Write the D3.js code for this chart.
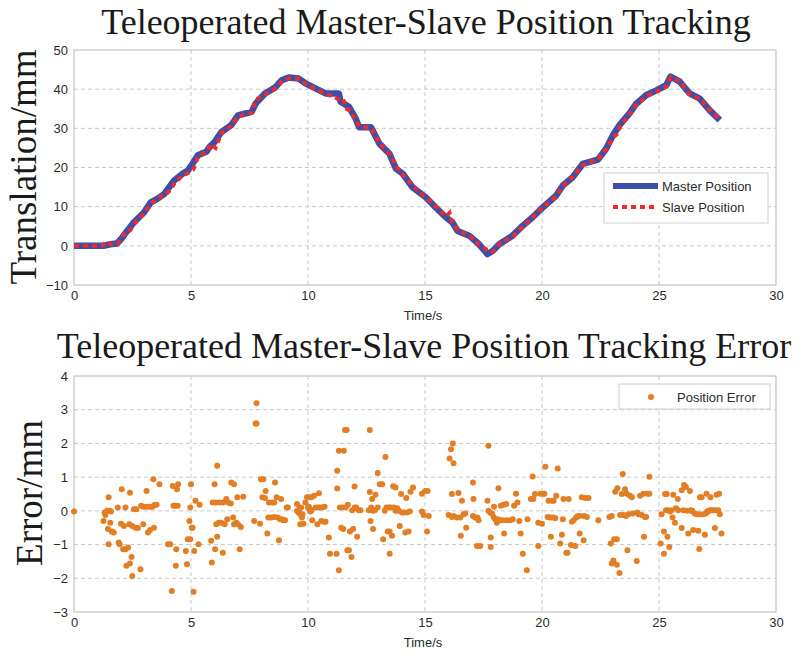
<!DOCTYPE html>
<html>
<head>
<meta charset="utf-8">
<script src="https://cdn.jsdelivr.net/npm/d3@7"></script>
<style>
  body { margin: 0; background: #fff; }
  .tick text { font-family: "Liberation Sans", Arial, sans-serif; font-size: 13px; fill: #2b2b2b; }
  .grid line { stroke: #c9c9c9; stroke-dasharray: 4,3; }
  .title { font-family: "Liberation Serif", "Times New Roman", serif; font-size: 36px; fill: #1a1a1a; }
  .ylab { font-family: "Liberation Serif", "Times New Roman", serif; font-size: 37px; fill: #1a1a1a; }
  .xlab, .leg { font-family: "Liberation Sans", Arial, sans-serif; font-size: 13px; fill: #2b2b2b; }
</style>
</head>
<body>
<div id="chart"></div>
<script>
// top chart: master / slave position (time s, translation mm)
var masterT = [0, 1.26, 1.55, 1.84, 2.05, 2.27, 2.56, 2.99, 3.28, 3.56, 3.85, 4.07, 4.28, 4.64, 4.86, 5.07, 5.29, 5.65, 5.79, 6.01, 6.29, 6.72, 7.01, 7.59, 7.76, 8.16, 8.59, 8.88, 9.17, 9.6, 9.89, 10.32, 10.75, 11.32, 11.39, 11.75, 12.04, 12.18, 12.69, 13.05, 13.48, 13.76, 14.05, 14.46, 15.03, 15.46, 15.89, 16.17, 16.39, 16.89, 17.31, 17.67, 17.89, 18.17, 18.74, 19.17, 19.6, 20.03, 20.6, 20.89, 21.31, 21.74, 22.39, 22.74, 23.03, 23.31, 23.74, 24.03, 24.46, 24.89, 25.31, 25.49, 25.89, 26.31, 26.74, 27.17, 27.6];
var masterV = [0, 0, 0.4, 0.6, 2, 3.8, 6, 8.5, 11.1, 12, 13.2, 15, 16.7, 18.4, 19.2, 21, 23.1, 24, 25.2, 26.5, 29, 30.8, 33.3, 34.2, 36.3, 38.9, 40.4, 42.3, 43, 42.7, 41.5, 40.2, 38.9, 38.9, 36.8, 35.5, 32.5, 30.3, 30.3, 26.1, 23.5, 19.7, 18.4, 15, 12.4, 9.8, 7.3, 6, 3.8, 2.6, 0.4, -2.1, -1.3, 0.4, 2.6, 5.1, 7.3, 9.8, 12.8, 15.4, 17.5, 20.9, 22, 24.8, 28.2, 30.8, 33.8, 36.3, 38.5, 39.7, 41, 43.2, 41.9, 38.9, 37.6, 34.6, 32.1];

var slaveT = [0, 1.2, 1.4, 1.6, 1.9, 2.1, 2.35, 2.6, 2.75, 3.0, 3.3, 3.6, 3.9, 4.1, 4.3, 4.6, 4.85, 5.1, 5.3, 5.7, 5.85, 6.05, 6.3, 6.7, 7.0, 7.6, 7.75, 8.2, 8.6, 8.9, 9.2, 9.6, 9.9, 10.3, 10.8, 11.1, 11.35, 11.5, 11.65, 11.8, 12.05, 12.2, 12.7, 13.05, 13.5, 13.8, 14.05, 14.5, 15.05, 15.5, 15.9, 16.05, 16.15, 16.4, 16.9, 17.15, 17.3, 17.7, 17.9, 18.2, 18.75, 19.2, 19.6, 20.05, 20.6, 20.9, 21.3, 21.75, 22.4, 22.75, 23.05, 23.2, 23.35, 23.75, 24.05, 24.5, 24.9, 25.3, 25.5, 25.9, 26.3, 26.75, 27.2, 27.6];
var slaveV = [0, 0, 1, 0.3, 0.8, 2.8, 3.5, 5.8, 6.8, 8.3, 10.8, 12.2, 13, 14.2, 16, 17.8, 18.5, 19.5, 22.8, 24.2, 26, 25, 28.8, 30.5, 33, 34, 37.2, 38.8, 40.2, 42, 42.8, 42.6, 41.4, 40.1, 38.6, 38.2, 37.2, 37.4, 35, 34.5, 32, 30.5, 30, 26.3, 23.3, 20, 18.2, 15.2, 12.3, 9.9, 7.5, 8.4, 6.2, 4, 2.5, 1.5, 0.3, -1.2, -1.5, 0.6, 2.4, 5, 7.2, 10, 12.6, 15.2, 17.6, 20.6, 22.2, 24.6, 27.8, 28.5, 30.6, 33.6, 36.1, 38.3, 39.4, 40.6, 43, 42.1, 38.7, 37.5, 34.4, 32.3];

// bottom chart: position error (time s, error mm)
var errorPoints = [
  [0.00,-0.02],[1.26,-0.30],[1.31,-0.05],[1.34,-0.12],[1.41,0.00],[1.48,0.40],[1.52,0.00],[1.55,-0.35],[1.58,-0.02],[1.45,-0.54],
  [1.48,-0.99],[1.62,-0.61],[1.70,-0.64],[1.87,0.10],[1.91,-0.94],[1.95,-0.99],[2.01,-0.38],[2.04,0.64],[2.10,-1.14],[2.13,-0.45],
  [2.20,0.10],[2.20,-1.14],[2.24,-1.63],[2.31,-1.09],[2.36,-0.40],[2.39,0.54],[2.39,-1.56],[2.46,-1.37],[2.49,-1.93],[2.49,-0.45],
  [2.56,0.05],[2.63,-0.50],[2.66,0.05],[2.73,-0.51],[2.84,-1.73],[2.87,0.15],[2.96,-0.40],[2.96,0.12],[3.06,0.12],[3.10,0.59],
  [3.16,-0.64],[3.20,0.12],[3.25,-0.57],[3.28,0.12],[3.35,0.12],[3.39,0.94],[3.42,-0.50],[3.45,0.18],[3.53,0.18],[3.65,0.79],
  [4.02,-0.99],[4.11,-0.99],[4.18,-2.38],[4.22,0.74],[4.25,0.15],[4.32,0.15],[4.35,-1.63],[4.37,-1.14],[4.40,0.64],[4.43,0.15],
  [4.45,0.79],[4.78,-1.19],[4.83,-1.58],[4.86,-0.84],[4.93,-0.30],[4.97,0.10],[4.97,-0.84],[5.00,0.79],[5.04,-0.50],[5.07,-0.50],
  [5.11,-2.40],[5.14,-1.19],[5.19,0.30],[5.32,-0.99],[5.37,0.18],[5.86,-0.89],[5.89,-1.53],[5.93,0.25],[6.01,0.79],[6.03,-1.14],
  [6.05,0.25],[6.08,-0.40],[6.12,1.34],[6.12,-0.77],[6.18,-0.35],[6.22,0.25],[6.29,-0.35],[6.36,-1.24],[6.36,0.25],[6.44,-0.40],
  [6.51,0.35],[6.55,-0.25],[6.58,0.25],[6.70,0.22],[6.72,0.84],[6.80,-0.20],[6.84,0.79],[6.84,-0.40],[6.94,-0.35],[6.98,0.40],
  [7.01,-0.40],[7.08,-1.14],[7.13,-0.48],[7.23,0.42],[7.70,-0.30],[7.76,2.59],[7.80,3.19],[7.80,2.59],[7.95,-0.38],[7.99,0.94],
  [8.05,0.40],[8.09,0.94],[8.16,0.38],[8.19,0.59],[8.26,-0.67],[8.30,-0.20],[8.33,0.25],[8.42,-0.20],[8.48,0.25],[8.56,0.25],
  [8.56,-0.18],[8.59,0.84],[8.66,0.40],[8.71,-0.20],[8.76,-0.87],[8.81,-0.25],[8.85,0.35],[8.88,-0.25],[8.95,-0.28],[9.02,-0.28],
  [9.09,0.10],[9.14,0.10],[9.53,0.20],[9.53,0.00],[9.60,-0.05],[9.63,0.05],[9.67,-0.10],[9.67,-0.40],[9.71,0.10],[9.74,-0.20],
  [9.77,-0.10],[9.81,-0.38],[9.89,0.25],[9.96,0.40],[10.00,0.10],[10.03,0.40],[10.10,0.05],
  [10.04,0.12],[10.09,-0.02],[10.14,0.00],[10.14,0.40],[10.18,-0.28],[10.26,0.45],[10.33,0.10],[10.40,-0.40],[10.43,0.10],[10.47,0.52],
  [10.51,0.10],[10.57,-0.30],[10.61,0.10],[10.68,-0.32],[10.71,0.12],[10.75,-0.32],[10.89,-0.79],[10.94,-1.27],[11.22,-1.27],[11.25,1.19],
  [11.25,0.66],[11.32,1.78],[11.32,-1.76],[11.36,0.10],[11.42,-0.50],[11.46,0.10],[11.51,-0.54],[11.53,1.78],[11.58,2.40],[11.61,0.10],
  [11.65,2.40],[11.68,-1.17],[11.70,0.18],[11.75,-1.17],[11.79,-0.61],[11.86,-1.37],[11.89,0.02],[11.93,-0.54],[11.99,0.72],[12.00,0.10],
  [12.06,0.10],[12.10,-0.77],[12.17,0.02],[12.24,0.02],[12.60,0.02],[12.64,2.40],[12.64,0.56],[12.67,-0.30],[12.70,0.10],[12.74,0.35],
  [12.78,-0.54],[12.78,0.00],[12.86,0.02],[12.88,0.48],[12.98,1.12],[12.98,0.10],[13.07,0.79],[13.17,0.79],[13.21,-0.84],[13.28,0.00],
  [13.31,1.60],[13.35,0.10],[13.41,-0.61],[13.45,0.10],[13.49,-1.27],[13.49,-0.61],[13.52,0.10],[13.59,-0.74],[13.64,0.73],[13.66,0.10],
  [13.74,0.69],[13.74,0.00],[13.81,0.08],[13.88,0.00],[13.92,-0.45],[13.98,0.50],[14.02,-0.05],[14.09,-0.05],[14.16,-0.64],[14.20,0.38],
  [14.23,-0.05],[14.30,-0.61],[14.35,-0.02],[14.38,0.57],[14.49,0.69],[14.87,0.51],[14.87,-0.02],[14.94,-0.12],[15.01,0.59],[15.09,-0.61],
  [15.11,0.59],[15.16,-0.15],[16.01,-0.12],[16.05,1.55],[16.11,1.83],[16.15,0.50],[16.15,-0.18],[16.19,2.00],[16.22,1.41],[16.22,-0.15],
  [16.36,-0.20],[16.43,0.53],[16.51,-0.20],[16.53,-0.74],[16.58,0.30],[16.65,-0.10],[16.72,-0.08],[16.76,-0.50],[17.05,0.84],[17.07,0.35],
  [17.05,-0.15],[17.14,-0.20],[17.22,-1.04],[17.24,-0.20],[17.29,-0.28],[17.36,-1.04],[17.67,0.30],[17.71,1.93],[17.71,0.00],[17.78,-0.05],
  [17.81,-1.07],[17.81,-0.79],[17.86,-0.08],[17.93,-0.18],[17.95,0.12],[18.00,-0.25],[18.07,-0.35],[18.10,-0.25],[18.14,0.67],[18.21,-0.28],
  [18.24,0.15],[18.32,-0.28],[18.35,0.18],[18.38,-0.67],[18.47,0.20],[18.49,-0.28],[18.64,-0.28],[18.75,-0.25],[18.81,0.15],[18.89,0.51],
  [18.95,0.25],[19.03,-0.30],[19.09,-0.67],[19.18,-1.27],[19.35,-1.76],[19.38,-0.25],[19.52,0.35],[19.60,1.02],[19.63,0.35],[19.70,0.50],
  [19.84,-0.35],[19.84,-1.04],[19.93,0.51],[20.00,-0.38],[20.04,0.51],[20.10,0.51],[20.14,1.31],[20.24,-0.18],[20.28,0.30],[20.36,-0.20],
  [20.38,-0.77],[20.43,0.30],[20.47,-0.20],[20.50,0.30],[20.57,-0.22],[20.61,0.45],[20.67,1.26],[20.78,-0.97],[20.85,-0.71],[20.89,-0.25],
  [20.92,0.35],[21.04,-1.24],[21.09,-1.24],[21.14,0.35],[21.24,-1.01],[21.28,-0.32],[21.35,-0.28],[21.42,-1.04],[21.46,-0.20],[21.52,-0.16],
  [21.61,-0.15],[21.61,-0.67],[21.70,0.40],[21.78,-0.87],[21.80,-0.15],[21.85,0.38],[21.92,-0.18],[21.99,0.38],[22.41,-0.28],[22.88,-0.18],
  [22.94,-0.97],[22.98,-0.15],[22.98,-1.56],[23.05,-1.47],[23.08,-0.84],[23.13,0.57],[23.20,-0.84],[23.20,-1.60],[23.22,0.67],[23.31,-1.84],
  [23.34,-0.12],[23.41,0.50],[23.45,1.09],[23.48,-0.12],[23.55,0.64],[23.59,-0.15],[23.62,0.51],[23.65,-1.17],[23.69,-0.10],[23.76,0.45],
  [23.84,0.40],[23.88,-0.08],[24.05,-1.49],[24.08,-0.05],[24.12,-0.10],[24.19,0.45],[24.26,-0.12],[24.33,0.51],[24.36,-0.77],[24.40,-0.18],
  [24.45,-0.18],[24.50,0.51],[24.59,1.01],[24.59,0.51],[25.07,-0.97],[25.11,-0.10],[25.21,-1.27],[25.21,-0.61],[25.26,0.50],[25.30,0.02],
  [25.33,0.50],[25.36,-0.77],[25.40,0.02],[25.44,-1.07],[25.47,-0.02],[25.54,0.02],[25.58,-0.20],[25.61,0.48],[25.68,-0.35],[25.72,0.08],
  [25.80,0.35],[25.82,0.02],[25.97,0.61],[25.97,-0.51],[26.04,0.02],[26.07,0.77],[26.15,0.71],[26.21,0.00],[26.25,-0.67],[26.32,0.59],
  [26.35,0.02],[26.39,0.00],[26.43,0.00],[26.46,-0.57],[26.53,-0.08],[26.61,-0.10],[26.68,-0.59],[26.72,-1.13],[26.75,-0.10],[26.75,0.40],
  [26.82,0.40],[26.89,-0.10],[26.96,-0.71],[27.00,-0.08],[27.03,0.51],[27.06,-0.02],[27.10,-0.02],[27.17,0.02],[27.20,0.40],[27.24,0.02],
  [27.32,0.02],[27.39,-0.51],[27.43,0.02],[27.46,0.48],[27.53,0.02],[27.57,0.51],[27.60,-0.10],[27.67,-0.67]
];

var xTicks = [0, 5, 10, 15, 20, 25, 30];
var topYTicks = [-10, 0, 10, 20, 30, 40, 50];
var botYTicks = [-3, -2, -1, 0, 1, 2, 3, 4];

var width = 800, height = 656;
var blue = "#3d4fa6", red = "#ef2a2e", orange = "#e27e24", frame = "#c4c4c4";

var svg = d3.select("#chart").append("svg")
    .attr("width", width)
    .attr("height", height);

var x = d3.scaleLinear().domain([0, 30]).range([74, 776]);

function panel(y, yTicks, top, bottom) {
    var g = svg.append("g");

    // grid
    g.append("g").attr("class", "grid")
        .selectAll("line").data(xTicks.slice(1, -1)).enter().append("line")
        .attr("x1", function(d){ return x(d); }).attr("x2", function(d){ return x(d); })
        .attr("y1", top).attr("y2", bottom);
    g.append("g").attr("class", "grid")
        .selectAll("line").data(yTicks.slice(1, -1)).enter().append("line")
        .attr("x1", 74).attr("x2", 776)
        .attr("y1", function(d){ return y(d); }).attr("y2", function(d){ return y(d); });

    // frame
    g.append("rect")
        .attr("x", 74).attr("y", top)
        .attr("width", 702).attr("height", bottom - top)
        .attr("fill", "none").attr("stroke", frame).attr("stroke-width", 1.2);

    // axes (labels only)
    var xa = g.append("g")
        .attr("transform", "translate(0," + bottom + ")")
        .call(d3.axisBottom(x).tickValues(xTicks).tickFormat(d3.format("d")).tickSize(0).tickPadding(6));
    xa.select(".domain").remove();

    var ya = g.append("g")
        .attr("transform", "translate(74,0)")
        .call(d3.axisLeft(y).tickValues(yTicks).tickFormat(d3.format("d")).tickSize(0).tickPadding(6));
    ya.select(".domain").remove();

    return g;
}

// ---------- top chart ----------
var yTop = d3.scaleLinear().domain([-10, 50]).range([285, 50]);
var gTop = panel(yTop, topYTicks, 50, 285);

var master = masterT.map(function(t, i){ return [t, masterV[i]]; });
var slave = slaveT.map(function(t, i){ return [t, slaveV[i]]; });

var line = d3.line()
    .x(function(d){ return x(d[0]); })
    .y(function(d){ return yTop(d[1]); });

gTop.append("path")
    .datum(master)
    .attr("d", line)
    .attr("fill", "none")
    .attr("stroke", blue)
    .attr("stroke-width", 6.5)
    .attr("stroke-linejoin", "round");

gTop.append("path")
    .datum(slave)
    .attr("d", line)
    .attr("fill", "none")
    .attr("stroke", red)
    .attr("stroke-width", 4)
    .attr("stroke-dasharray", "5,4");

// legend
var legTop = gTop.append("g").attr("transform", "translate(604,173)");
legTop.append("rect").attr("width", 164).attr("height", 50)
    .attr("fill", "#fff").attr("stroke", "#d0d0d0");
legTop.append("line").attr("x1", 9).attr("x2", 54).attr("y1", 13).attr("y2", 13)
    .attr("stroke", blue).attr("stroke-width", 6);
legTop.append("line").attr("x1", 9).attr("x2", 54).attr("y1", 34).attr("y2", 34)
    .attr("stroke", red).attr("stroke-width", 4).attr("stroke-dasharray", "5,4");
legTop.append("text").attr("class", "leg").attr("x", 58).attr("y", 18).text("Master Position");
legTop.append("text").attr("class", "leg").attr("x", 58).attr("y", 39).text("Slave Position");

// ---------- bottom chart ----------
var yBot = d3.scaleLinear().domain([-3, 4]).range([612, 376]);
var gBot = panel(yBot, botYTicks, 376, 612);

gBot.append("g").selectAll("circle")
    .data(errorPoints).enter().append("circle")
    .attr("cx", function(d){ return x(d[0]); })
    .attr("cy", function(d){ return yBot(d[1]); })
    .attr("r", 3)
    .attr("fill", orange);

var legBot = gBot.append("g").attr("transform", "translate(619,384)");
legBot.append("rect").attr("width", 151).attr("height", 25)
    .attr("fill", "#fff").attr("stroke", "#d0d0d0");
legBot.append("circle").attr("cx", 32).attr("cy", 13).attr("r", 3).attr("fill", orange);
legBot.append("text").attr("class", "leg").attr("x", 58).attr("y", 17.5).text("Position Error");

// ---------- titles & labels ----------
svg.append("text").attr("class", "title")
    .attr("x", 426).attr("y", 34).attr("text-anchor", "middle")
    .text("Teleoperated Master-Slave Position Tracking");
svg.append("text").attr("class", "title")
    .attr("x", 424).attr("y", 358).attr("text-anchor", "middle")
    .text("Teleoperated Master-Slave Position Tracking Error");

svg.append("text").attr("class", "xlab")
    .attr("x", 423).attr("y", 320).attr("text-anchor", "middle").text("Time/s");
svg.append("text").attr("class", "xlab")
    .attr("x", 423).attr("y", 647).attr("text-anchor", "middle").text("Time/s");

svg.append("text").attr("class", "ylab")
    .attr("transform", "translate(36,167) rotate(-90)")
    .attr("text-anchor", "middle").text("Translation/mm");
svg.append("text").attr("class", "ylab")
    .attr("transform", "translate(42,493) rotate(-90)")
    .attr("text-anchor", "middle").text("Error/mm");
</script>
</body>
</html>
